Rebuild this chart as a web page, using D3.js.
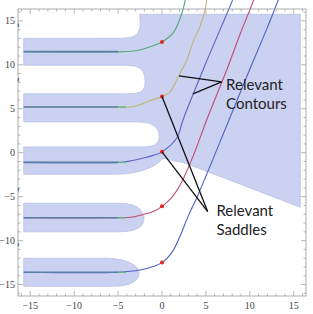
<!DOCTYPE html>
<html>
<head>
<meta charset="utf-8">
<script src="https://cdn.jsdelivr.net/npm/d3@7"></script>
<style>
  body { margin: 0; background: #fff; }
  svg { display: block; }
</style>
</head>
<body>
<svg id="chart" width="313" height="314"></svg>
<script>
// axis ticks
var tickValues = d3.range(-16, 17);
var tickLabels = [-15, -10, -5, 0, 5, 10, 15];

// shaded region outlines (data coords)
var upperRegion = [
  [-2.55, 15.75], [15.75, 15.75], [15.75, -6.2], [10, -4.0], [6.25, -2.55], [2.4, -1.1],
  [1.5, -0.95], [0.8, -0.78], [0.25, -0.65], [0.0, -0.75], [-0.3, -1.05], [-0.7, -1.35],
  [-1.2, -1.62], [-1.8, -1.88], [-2.5, -2.1], [-3.3, -2.28], [-4.2, -2.4], [-5.2, -2.45],
  [-15.75, -2.45],
  [-15.75, 0.65], [-2.5, 0.65], [-1.8, 0.68], [-1.3, 0.74], [-0.9, 0.85], [-0.6, 1.05],
  [-0.4, 1.35], [-0.3, 1.75], [-0.33, 2.2], [-0.48, 2.6], [-0.75, 2.95], [-1.15, 3.22],
  [-1.7, 3.4], [-2.5, 3.5], [-15.75, 3.5],
  [-15.75, 6.7], [-4, 6.7], [-3.1, 6.74], [-2.5, 6.88], [-2.15, 7.15], [-1.97, 7.55],
  [-1.93, 8.1], [-1.97, 8.7], [-2.15, 9.2], [-2.5, 9.6], [-3.1, 9.85], [-4, 9.95],
  [-15.75, 9.95],
  [-15.75, 13.0], [-4.5, 13.02], [-3.6, 13.12], [-3.1, 13.3], [-2.8, 13.55], [-2.6, 13.95],
  [-2.5, 14.4], [-2.5, 15.0]
];
var fingerD = [
  [-15.75, -5.75], [-5, -5.75], [-4.1, -5.8], [-3.4, -5.92], [-2.85, -6.15], [-2.45, -6.5],
  [-2.17, -6.95], [-2.05, -7.4], [-2.1, -7.85], [-2.3, -8.25], [-2.7, -8.58], [-3.3, -8.83],
  [-4.1, -8.96], [-5, -9.0], [-15.75, -9.0]
];
var fingerE = [
  [-15.75, -12.0], [-6.5, -12.0], [-5.4, -12.05], [-4.5, -12.2], [-3.75, -12.45], [-3.15, -12.8],
  [-2.75, -13.2], [-2.6, -13.65], [-2.7, -14.15], [-3.05, -14.6], [-3.7, -14.95], [-4.5, -15.13],
  [-5.5, -15.2], [-15.75, -15.2]
];

// contour curves
var contourA = [[-15.75, 11.5], [-5, 11.5], [-3, 11.6], [-1.5, 12.0], [0, 12.6], [1.25, 13.6], [2.0, 15.1], [2.4, 16.3], [2.65, 17.4]];
var contourB = [[-15.75, 5.2], [-5, 5.2], [-3.6, 5.2], [-2.5, 5.45], [-1.4, 5.9], [0, 6.4], [0.9, 6.9], [1.9, 8.75], [2.85, 10.6], [3.5, 12.5], [4.3, 14.3], [4.9, 16.25], [5.1, 17.4]];
var contourC = [[-15.75, -1.1], [-5, -1.1], [-4.3, -1.05], [-2.1, -0.6], [-1, -0.3], [0, 0.1], [1.7, 1.7], [2.4, 3.75], [5.0, 10.2], [7.6, 16.3], [8.05, 17.4]];
var contourD = [[-15.75, -7.4], [-5, -7.4], [-3.5, -7.35], [-2.2, -7.05], [-1.0, -6.7], [0, -6.1], [1.1, -5.1], [2.05, -3.7], [3.5, -0.5], [5.1, 3.75], [7.4, 9.5], [8.9, 13.5], [10, 16.25], [10.45, 17.4]];
var contourE = [[-15.75, -13.6], [-5, -13.6], [-2.5, -13.35], [-1.0, -12.95], [0, -12.5], [1.1, -11.4], [2.05, -9.5], [2.95, -7.3], [4.1, -4.8], [7.5, 3.4], [10, 9.5], [11.9, 14], [12.8, 16.25], [13.25, 17.4]];
var contours = [contourA, contourB, contourC, contourD, contourE];
var contourColors = ['#55a877', '#c4b37a', '#5a63c4', '#c24a72', '#4f62c6'];
var tailEnd = -5;

var saddles = [[0, 12.6], [0, 6.4], [0, 0.1], [0, -6.1], [0, -12.5]];
var edgeMarks = [14.5, 8.3, -4.2, -10.45];

// annotations
var contourNote = { text: ['Relevant', 'Contours'], at: [7.3, 7.1], from: [6.8, 8.07], to: [[1.93, 8.75], [3.52, 6.7]] };
var saddleNote = { text: ['Relevant', 'Saddles'], at: [6.2, -7.2], from: [5.2, -6.7], to: [[0, 6.4], [0, 0.1]] };

var svg = d3.select('#chart');
var x = d3.scaleLinear().domain([-16.4, 16.4]).range([18, 306]);
var y = d3.scaleLinear().domain([-16.3, 16.35]).range([296, 9]);

var poly = d3.line()
  .x(function (d) { return x(d[0]); })
  .y(function (d) { return y(d[1]); })
  .curve(d3.curveLinearClosed);
var straight = d3.line()
  .x(function (d) { return x(d[0]); })
  .y(function (d) { return y(d[1]); });
var curve = d3.line()
  .x(function (d) { return x(d[0]); })
  .y(function (d) { return y(d[1]); })
  .curve(d3.curveCatmullRom.alpha(0.5));

// shaded regions
[upperRegion, fingerD, fingerE].forEach(function (p) {
  svg.append('path')
    .attr('d', poly(p))
    .attr('fill', '#cbd2f1')
    .attr('stroke', '#b3bbe0')
    .attr('stroke-width', 0.7)
    .attr('stroke-linejoin', 'round');
});

// contours
contours.forEach(function (c, i) {
  svg.append('path')
    .attr('d', curve(c))
    .attr('fill', 'none')
    .attr('stroke', contourColors[i])
    .attr('stroke-width', 1.1);
  var tail = c.filter(function (d) { return d[0] <= tailEnd; });
  var y0 = tail[tail.length - 1][1];
  svg.append('path')
    .attr('d', straight([[tailEnd, y0], [tailEnd + 0.9, y0]]))
    .attr('fill', 'none')
    .attr('stroke', '#63b57c')
    .attr('stroke-width', 1.3);
  svg.append('path')
    .attr('d', straight(tail))
    .attr('fill', 'none')
    .attr('stroke', '#5b7ea8')
    .attr('stroke-width', 1.6);
});

// frame
var g = svg.append('g');
g.append('rect')
  .attr('x', x.range()[0]).attr('y', y.range()[1])
  .attr('width', x.range()[1] - x.range()[0])
  .attr('height', y.range()[0] - y.range()[1])
  .attr('fill', 'none').attr('stroke', '#9a9a9a').attr('stroke-width', 0.8);

function tickLen(v) { return v % 5 === 0 ? 5 : 2.5; }
tickValues.forEach(function (v) {
  var L = tickLen(v);
  g.append('line').attr('x1', x(v)).attr('x2', x(v)).attr('y1', y.range()[0]).attr('y2', y.range()[0] - L);
  g.append('line').attr('x1', x(v)).attr('x2', x(v)).attr('y1', y.range()[1]).attr('y2', y.range()[1] + L);
  g.append('line').attr('y1', y(v)).attr('y2', y(v)).attr('x1', x.range()[0]).attr('x2', x.range()[0] + L);
  g.append('line').attr('y1', y(v)).attr('y2', y(v)).attr('x1', x.range()[1]).attr('x2', x.range()[1] - L);
});
g.selectAll('line').attr('stroke', '#9a9a9a').attr('stroke-width', 0.7);

var fmt = function (v) { return v < 0 ? '\u2212' + Math.abs(v) : String(v); };
g.selectAll('.xl').data(tickLabels).enter().append('text')
  .attr('x', function (d) { return x(d); })
  .attr('y', 309)
  .attr('text-anchor', 'middle')
  .style('font-family', 'Liberation Serif, serif')
  .style('font-size', '10px')
  .style('fill', '#444')
  .text(fmt);
g.selectAll('.yl').data(tickLabels).enter().append('text')
  .attr('x', 15)
  .attr('y', function (d) { return y(d); })
  .attr('dy', '0.35em')
  .attr('text-anchor', 'end')
  .style('font-family', 'Liberation Serif, serif')
  .style('font-size', '10px')
  .style('fill', '#444')
  .text(fmt);

// little marks on the left frame
edgeMarks.forEach(function (v) {
  svg.append('line')
    .attr('x1', x.range()[0] + 0.5).attr('x2', x.range()[0] + 0.5)
    .attr('y1', y(v + 0.2)).attr('y2', y(v - 0.2))
    .attr('stroke', '#5b7ea8').attr('stroke-width', 1.4);
});

// saddle points
svg.selectAll('.saddle').data(saddles).enter().append('circle')
  .attr('cx', function (d) { return x(d[0]); })
  .attr('cy', function (d) { return y(d[1]); })
  .attr('r', 2)
  .attr('fill', '#e3261f');

// annotations
[contourNote, saddleNote].forEach(function (n) {
  n.to.forEach(function (t) {
    svg.append('line')
      .attr('x1', x(n.from[0])).attr('y1', y(n.from[1]))
      .attr('x2', x(t[0])).attr('y2', y(t[1]))
      .attr('stroke', '#111').attr('stroke-width', 1.3);
  });
  n.text.forEach(function (s, i) {
    svg.append('text')
      .attr('x', x(n.at[0]))
      .attr('y', y(n.at[1]) + i * 19)
      .style('font-family', 'Lato, sans-serif')
      .style('font-size', '15px')
      .style('fill', '#222')
      .text(s);
  });
});
</script>
</body>
</html>
